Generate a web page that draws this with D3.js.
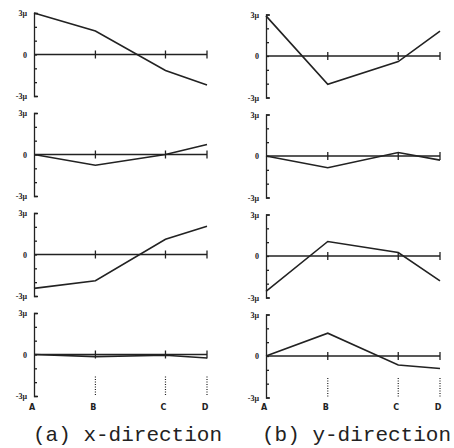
<!DOCTYPE html>
<meta charset="utf-8">
<script src="https://d3js.org/d3.v7.min.js"></script>
<style>
  body { margin: 0; background: #fff; }
  text { fill: #222; }
</style>
<div id="chart"></div>
<script>
// stations along the member and their relative positions
var stations = ["A", "B", "C", "D"];
var stationPos = [0, 3.55, 7.6, 10];

// strain values (micro), four rows per direction, read at A, B, C, D
var xRow1 = [3.0, 1.7, -1.15, -2.2];
var xRow2 = [0, -0.78, 0, 0.72];
var xRow3 = [-2.45, -1.9, 1.1, 2.05];
var xRow4 = [0, -0.15, -0.05, -0.25];

var yRow1 = [2.9, -2.05, -0.4, 1.8];
var yRow2 = [0, -0.85, 0.25, -0.3];
var yRow3 = [-2.55, 1.05, 0.25, -1.8];
var yRow4 = [0, 1.65, -0.65, -0.9];

var yTickLabels = ["3\u03bc", "0", "-3\u03bc"];
var captions = ["(a) x-direction", "(b) y-direction"];

var columns = [
  {rows: [xRow1, xRow2, xRow3, xRow4], x0: 34, x1: 207, caption: captions[0], capX: 33},
  {rows: [yRow1, yRow2, yRow3, yRow4], x0: 266, x1: 440, caption: captions[1], capX: 262}
];

var W = 454, H = 448;
var ink = "#222";

var svg = d3.select("#chart").append("svg")
    .attr("width", W)
    .attr("height", H);

columns.forEach(function(col, ci) {
  var x = d3.scaleLinear()
      .domain([0, 10])
      .range([col.x0, col.x1]);

  col.rows.forEach(function(vals, ri) {
    var top = 13 + ri * 100 + (ci == 1 ? 1.5 : 0);
    var y = d3.scaleLinear()
        .domain([-3, 3])
        .range([top + 83, top]);

    var g = svg.append("g");

    // vertical axis, bracket style with ticks to the right
    g.append("g")
        .attr("transform", "translate(" + col.x0 + ",0)")
        .call(d3.axisRight(y)
          .tickValues([-3, -2, -1, 0, 1, 2, 3])
          .tickSize(3)
          .tickSizeOuter(4)
          .tickFormat(""))
        .call(function(a) {
          a.selectAll("path, line").attr("stroke", ink).attr("stroke-width", 1.3);
        });

    // labels 3μ / 0 / -3μ
    g.selectAll(".lab")
      .data([3, 0, -3])
      .enter().append("text")
        .attr("x", col.x0 - 7)
        .attr("y", function(d) { return y(d) + 3; })
        .attr("text-anchor", "end")
        .style("font-family", "Liberation Serif")
        .style("font-size", "8px")
        .style("font-weight", "bold")
        .text(function(d, i) { return yTickLabels[i]; });

    // zero line with crossing ticks at B, C, D
    g.append("line")
        .attr("x1", x(stationPos[0])).attr("x2", x(stationPos[3]))
        .attr("y1", y(0)).attr("y2", y(0))
        .attr("stroke", ink).attr("stroke-width", 1.4);
    g.selectAll(".st")
      .data(stationPos.slice(1))
      .enter().append("line")
        .attr("x1", function(d) { return x(d); })
        .attr("x2", function(d) { return x(d); })
        .attr("y1", y(0) - 4)
        .attr("y2", y(0) + 4)
        .attr("stroke", ink).attr("stroke-width", 1.3);

    // the strain line
    var line = d3.line()
        .x(function(d, i) { return x(stationPos[i]); })
        .y(function(d) { return y(d); });
    g.append("path")
        .datum(vals)
        .attr("d", line)
        .attr("fill", "none")
        .attr("stroke", ink)
        .attr("stroke-width", 1.6);

    // bottom row: dotted leaders and station letters
    if (ri == 3) {
      g.selectAll(".lead")
        .data(stationPos.slice(1))
        .enter().append("line")
          .attr("x1", function(d) { return x(d); })
          .attr("x2", function(d) { return x(d); })
          .attr("y1", y(0) + 22)
          .attr("y2", y(-3))
          .attr("stroke", ink)
          .attr("stroke-width", 1.2)
          .attr("stroke-dasharray", "1,1.5");
      g.selectAll(".stl")
        .data(stations)
        .enter().append("text")
          .attr("x", function(d, i) { return x(stationPos[i]) - 2; })
          .attr("y", 410)
          .attr("text-anchor", "middle")
          .style("font-family", "DejaVu Sans")
          .style("font-size", "8px")
          .style("font-weight", "bold")
          .text(function(d) { return d; });
    }
  });

  svg.append("text")
      .attr("x", col.capX)
      .attr("y", 441)
      .style("font-family", "Liberation Mono")
      .style("font-size", "21px")
      .text(col.caption);
});
</script>
